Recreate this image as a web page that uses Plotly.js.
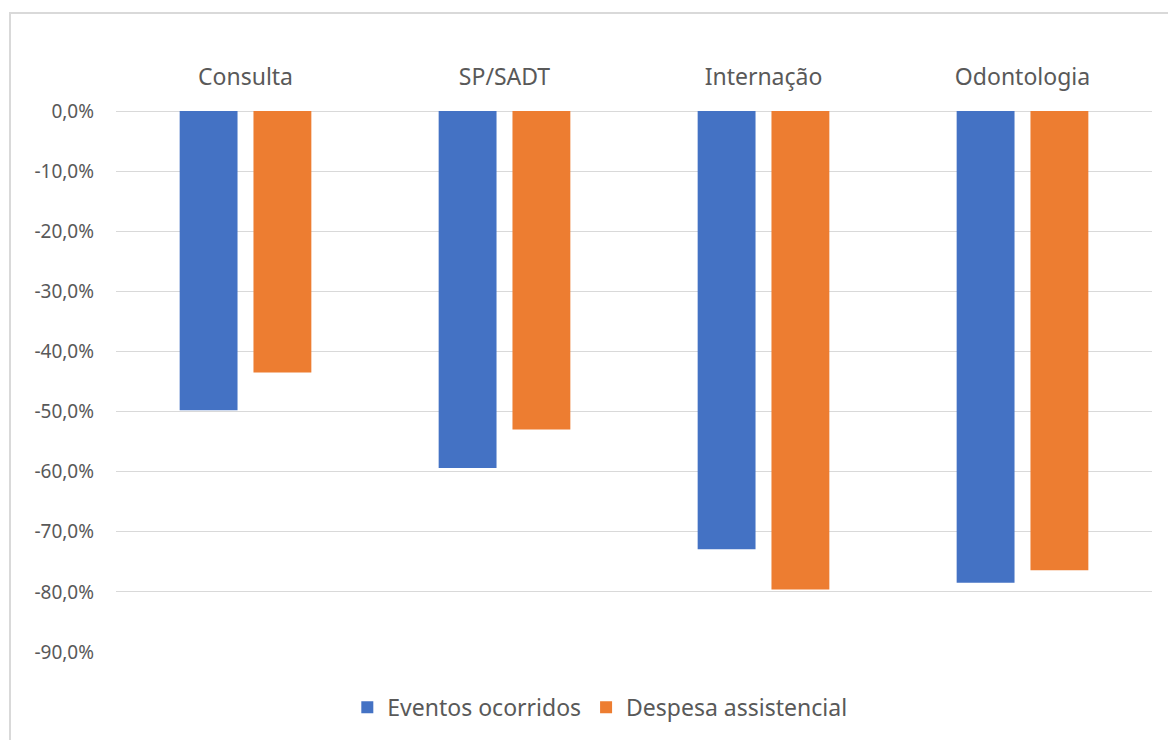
<!DOCTYPE html>
<html>
<head>
<meta charset="utf-8">
<script src="https://cdn.plot.ly/plotly-3.0.1.min.js"></script>
<style>
body{margin:0;background:#fff;}
#frame{position:absolute;left:9px;top:12px;width:1170px;height:740px;border-top:2px solid #d9d9d9;border-left:2px solid #d9d9d9;box-sizing:border-box;}
#chart{position:absolute;left:0;top:0;width:1168px;height:740px;}
</style>
</head>
<body>
<div id="frame"></div>
<div id="chart"></div>
<script>
const categories = ["Consulta", "SP/SADT", "Internação", "Odontologia"];
const eventosOcorridos = [-49.8, -59.4, -72.9, -78.5];
const despesaAssistencial = [-43.5, -53.0, -79.6, -76.4];
const yTicks = [0, -10, -20, -30, -40, -50, -60, -70, -80, -90];
const yTickText = yTicks.map(v => v.toFixed(1).replace(".", ",") + "%");

const font = {family: "Noto Sans, Open Sans, sans-serif", color: "#595959"};

const data = [
  {type: "bar", name: "Eventos ocorridos", x: categories, y: eventosOcorridos, marker: {color: "#4472c4"}},
  {type: "bar", name: "Despesa assistencial", x: categories, y: despesaAssistencial, marker: {color: "#ed7d31"}}
];

const layout = {
  width: 1168, height: 740,
  margin: {l: 116, r: 16, t: 111, b: 87},
  paper_bgcolor: "rgba(0,0,0,0)", plot_bgcolor: "rgba(0,0,0,0)",
  barmode: "group", bargap: 0.43, bargroupgap: 0.216,
  font: font,
  xaxis: {side: "top", showline: false, showgrid: false, zeroline: false, ticks: "", tickfont: {size: 23, color: "#595959"}, ticklabelstandoff: 20},
  yaxis: {range: [-90, 0], tickvals: yTicks, ticktext: yTickText, showgrid: true, gridcolor: "#d9d9d9", gridwidth: 1, zeroline: true, zerolinecolor: "#d9d9d9", zerolinewidth: 1, showline: false, ticks: "", tickfont: {size: 19, color: "#595959"}, ticklabelstandoff: 21},
  showlegend: true,
  legend: {orientation: "h", x: 0.467, xanchor: "center", y: -0.1, yanchor: "middle", font: {size: 23, color: "#595959"}, itemwidth: 30, traceorder: "normal"}
};

Plotly.newPlot("chart", data, layout, {displayModeBar: false});
</script>
</body>
</html>
